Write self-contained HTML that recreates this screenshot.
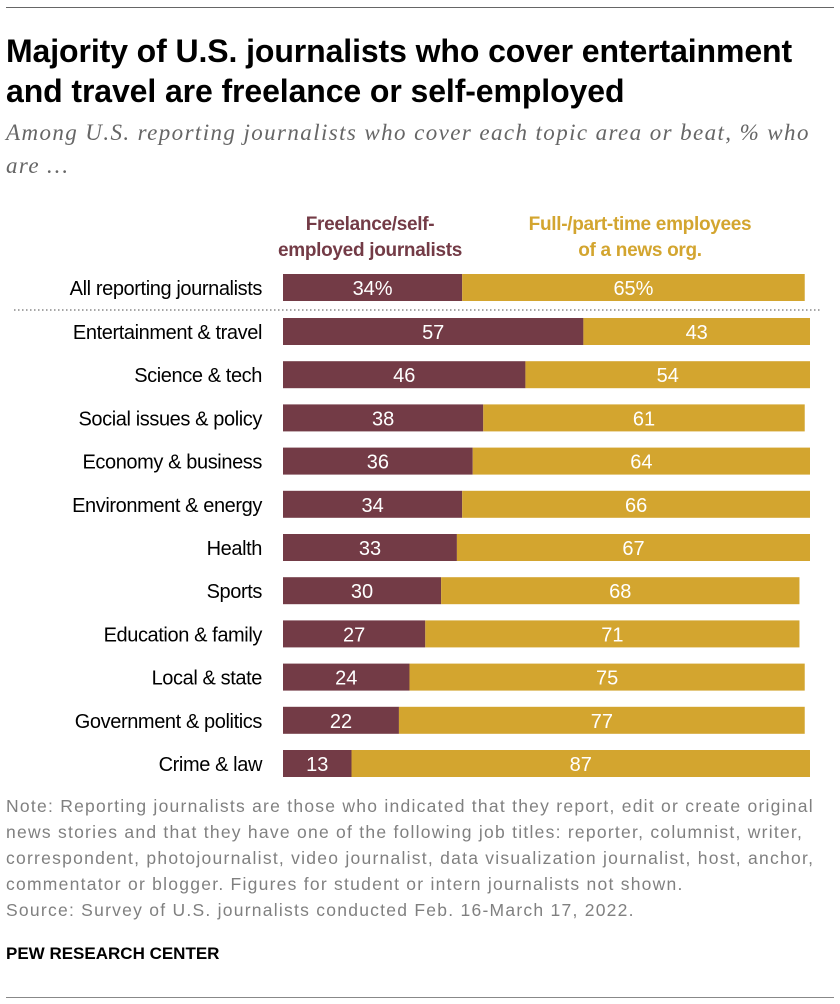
<!DOCTYPE html>
<html><head><meta charset="utf-8"><style>
body{margin:0;background:#fff;width:840px;height:1004px;position:relative;overflow:hidden;font-family:"Liberation Sans",sans-serif}
.abs{position:absolute}
#title{left:6px;top:31px;font-size:32px;font-weight:bold;line-height:40px;letter-spacing:-0.1px;color:#000;width:840px;white-space:nowrap}
#sub{left:6px;top:116px;font-family:"Liberation Serif",serif;font-style:italic;font-size:23px;line-height:33px;color:#666;width:840px;white-space:nowrap;letter-spacing:1.4px}
.leg{font-weight:bold;font-size:19px;line-height:26px;text-align:center;letter-spacing:-0.3px;white-space:nowrap}
#note{left:6px;top:793px;font-size:17.5px;line-height:26px;color:#808080;width:840px;letter-spacing:1.25px;white-space:nowrap}
#pew{left:6px;top:944px;font-size:17px;font-weight:bold;color:#000;letter-spacing:0px}
</style></head><body>
<div class="abs" style="left:6px;top:7px;width:828px;height:1px;background:#666"></div>
<div class="abs" id="title">Majority of U.S. journalists who cover entertainment<br>and travel are freelance or self-employed</div>
<div class="abs" id="sub">Among U.S. reporting journalists who cover each topic area or beat, % who<br>are …</div>
<div class="abs leg" style="left:250px;top:212px;width:240px;color:#733b46">Freelance/self-<br>employed journalists</div>
<div class="abs leg" style="left:500px;top:212px;width:280px;color:#d3a52f">Full-/part-time employees<br>of a news org.</div>
<svg class="abs" id="chart" style="left:0;top:0" width="840" height="800"></svg>
<div class="abs" id="note">Note: Reporting journalists are those who indicated that they report, edit or create original<br>news stories and that they have one of the following job titles: reporter, columnist, writer,<br>correspondent, photojournalist, video journalist, data visualization journalist, host, anchor,<br>commentator or blogger. Figures for student or intern journalists not shown.<br>Source: Survey of U.S. journalists conducted Feb. 16-March 17, 2022.</div>
<div class="abs" id="pew">PEW RESEARCH CENTER</div>
<div class="abs" style="left:6px;top:997px;width:828px;height:1px;background:#888"></div>
<script>
const categories=["All reporting journalists","Entertainment & travel","Science & tech","Social issues & policy","Economy & business","Environment & energy","Health","Sports","Education & family","Local & state","Government & politics","Crime & law"];
const freelance=[34,57,46,38,36,34,33,30,27,24,22,13];
const employees=[65,43,54,61,64,66,67,68,71,75,77,87];
const svg=document.getElementById('chart');
const NS='http://www.w3.org/2000/svg';
const x0=283,scale=5.27;
function xs(v){return v*scale;}
function yRow(i){return i===0?274:318+(i-1)*43.2;}
const bh=27;
function mk(t,a){const e=document.createElementNS(NS,t);for(const k in a)e.setAttribute(k,a[k]);svg.appendChild(e);return e;}
categories.forEach((c,i)=>{
 const y=yRow(i);
 const w1=xs(freelance[i]),w2=xs(employees[i]);
 const r1=mk('rect',{x:x0,y:y,width:w1,height:bh,fill:'#733b46'});
 
 
 const r2=mk('rect',{x:x0+w1,y:y,width:w2,height:bh,fill:'#d3a52f'});
 
 
 const sfx=i===0?'%':'';
 const t1=mk('text',{x:x0+w1/2,y:y+21,'text-anchor':'middle',fill:'#fff','font-size':20,'font-family':'Liberation Sans, sans-serif'});
 t1.textContent=freelance[i]+sfx;
 
 
 const t2=mk('text',{x:x0+w1+w2/2,y:y+21,'text-anchor':'middle',fill:'#fff','font-size':20,'font-family':'Liberation Sans, sans-serif'});
 t2.textContent=employees[i]+sfx;
 
 
 const lb=mk('text',{x:262,y:y+21,'text-anchor':'end',fill:'#000','font-size':20,'font-family':'Liberation Sans, sans-serif','letter-spacing':'-0.4'});
 lb.textContent=c;
 
 
});
const sep=mk('line',{x1:14,x2:822,y1:310,y2:310,stroke:'#888','stroke-width':1.5,'stroke-dasharray':'1.5 2.5'});


</script>
</body></html>
